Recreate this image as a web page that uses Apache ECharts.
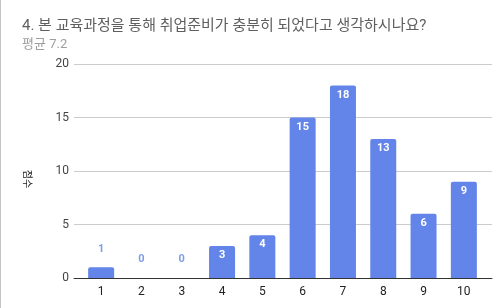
<!DOCTYPE html>
<html>
<head>
<meta charset="utf-8">
<script src="https://cdn.jsdelivr.net/npm/echarts@6/dist/echarts.min.js"></script>
<style>
    html, body {margin: 0; padding: 0; background: #fff;}
    #chart {width: 504px; height: 308px; box-sizing: border-box; border-left: 1px solid #c4c4c4;}
</style>
</head>
<body>
<div id="chart"></div>
<script>
const titleText = '4. 본 교육과정을 통해 취업준비가 충분히 되었다고 생각하시나요?';
const subText = '평균 7.2';
const yName = '점수';
const categories = ['1', '2', '3', '4', '5', '6', '7', '8', '9', '10'];
const counts = [1, 0, 0, 3, 4, 15, 18, 13, 6, 9];
const yTicks = [0, 5, 10, 15, 20];

const font = 'Roboto, "Noto Sans CJK KR", sans-serif';
const barColor = '#6384e8';

// short bars get their label above the bar, the rest inside at the top
let barData = counts.map(function (v) {
    if (v < 3) {
        return {
            value: v,
            label: {position: 'top', distance: 13, color: '#7e9de6'}
        };
    }
    return v;
});

let yMin = yTicks[0],
    yMax = yTicks[yTicks.length - 1];

let chart = echarts.init(document.getElementById('chart'), null, {renderer: 'canvas'});
chart.setOption({
    animation: false,
    title: {
        text: titleText,
        subtext: subText,
        left: 16,
        top: 14,
        itemGap: 4,
        textStyle: {fontFamily: font, fontSize: 15, fontWeight: 'normal', color: '#5f5f5f'},
        subtextStyle: {fontFamily: font, fontSize: 13, color: '#9e9e9e'}
    },
    // grid 0 holds the bars, grid 1 is a bit wider and only carries the gridlines and base line
    grid: [
        {left: 80, right: 20, top: 64, bottom: 30},
        {left: 73, right: 12, top: 64, bottom: 30}
    ],
    xAxis: [{
        type: 'category',
        gridIndex: 0,
        data: categories,
        axisTick: {show: false},
        axisLine: {show: false},
        axisLabel: {fontFamily: font, fontSize: 12, color: '#222', margin: 8}
    }, {
        type: 'category',
        gridIndex: 1,
        data: categories,
        axisTick: {show: false},
        axisLabel: {show: false},
        axisLine: {lineStyle: {color: '#333', width: 1}}
    }],
    yAxis: [{
        type: 'value',
        gridIndex: 0,
        min: yMin,
        max: yMax,
        interval: 5,
        name: yName,
        nameLocation: 'middle',
        nameRotate: -90,
        nameGap: 50,
        nameTextStyle: {fontFamily: font, fontSize: 10, color: '#222', padding: [0, 0, 0, 16]},
        axisLabel: {fontFamily: font, fontSize: 12, color: '#444', margin: 12},
        splitLine: {show: false},
        axisLine: {show: false},
        axisTick: {show: false}
    }, {
        type: 'value',
        gridIndex: 1,
        min: yMin,
        max: yMax,
        interval: 5,
        axisLabel: {show: false},
        splitLine: {lineStyle: {color: '#cccccc'}},
        axisLine: {show: false},
        axisTick: {show: false}
    }],
    series: [{
        type: 'bar',
        xAxisIndex: 0,
        yAxisIndex: 0,
        data: barData,
        barWidth: 26,
        z: 3,
        itemStyle: {color: barColor, borderRadius: [2, 2, 0, 0]},
        label: {
            show: true,
            position: 'insideTop',
            distance: 4,
            fontFamily: font,
            fontSize: 11,
            fontWeight: 'bold',
            color: '#fff'
        }
    }]
});
</script>
</body>
</html>
